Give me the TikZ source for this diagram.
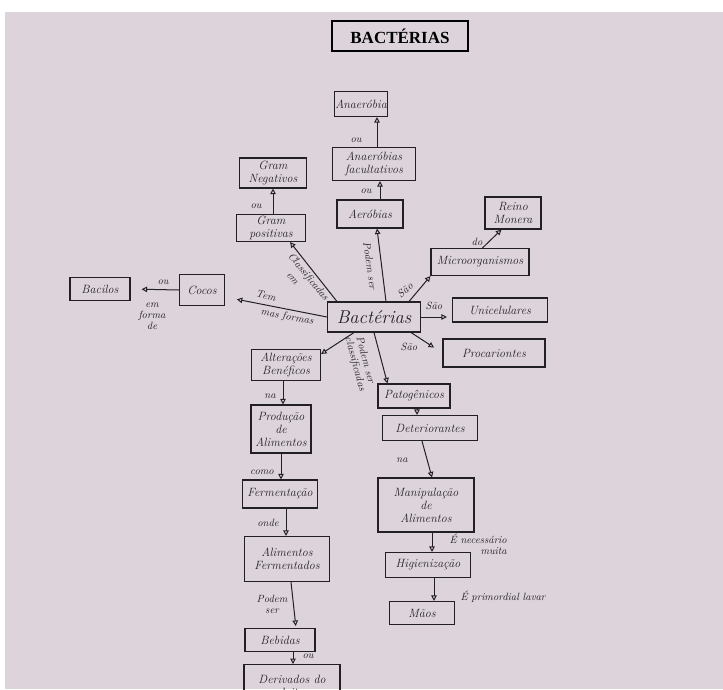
\documentclass[tikz,border=0pt]{standalone}
\usepackage{fontspec}
\newfontfamily\titlefont{Liberation Serif}
\usetikzlibrary{arrows.meta}
\definecolor{paper}{RGB}{221,212,219}
\definecolor{ink}{RGB}{34,32,36}
\tikzset{
  box/.style={draw=ink, line width=1.1pt, text=ink, inner sep=1pt, align=center,
    font=\itshape\fontsize{12}{13}\selectfont},
  lbl/.style={text=ink, inner sep=0pt, align=center, font=\itshape\fontsize{10.5}{11}\selectfont},
  conn/.style={draw=ink, line width=1pt, -{Triangle[open,length=5.5pt,width=5.5pt]}},
}
\begin{document}
\begin{tikzpicture}[x=1pt,y=-1pt]
\useasboundingbox (0,0) rectangle (723,689);
\clip (0,0) rectangle (723,689);
\fill[white] (0,0) rectangle (723,689);
\fill[paper] (5,12) rectangle (723,689);

% title
\node[draw=black, line width=1.1pt, minimum width=136, minimum height=30, inner sep=0pt,
  font=\titlefont\bfseries\fontsize{17}{18}\selectfont] (title) at (400,36) {BACTÉRIAS};

% boxes
\node[box, minimum width=52, minimum height=25] (ana) at (361,104) {Anaeróbia};
\node[box, minimum width=83, minimum height=33] (fac) at (374,164) {Anaeróbias\\facultativos};
\node[box, minimum width=66, minimum height=28] (aer) at (370,214) {Aeróbias};
\node[box, minimum width=67, minimum height=30] (gneg) at (273,173) {Gram\\Negativos};
\node[box, minimum width=69, minimum height=27] (gpos) at (271,228) {Gram\\positivas};
\node[box, minimum width=56, minimum height=32] (reino) at (513,213) {Reino\\Monera};
\node[box, minimum width=98, minimum height=27] (micro) at (480,262) {Microorganismos};
\node[box, minimum width=93, minimum height=30, font=\itshape\fontsize{18.5}{19}\selectfont] (bact) at (374,317) {Bactérias};
\node[box, minimum width=95, minimum height=24] (unic) at (500,310) {Unicelulares};
\node[box, minimum width=102, minimum height=28] (proc) at (494,353) {Procariontes};
\node[box, minimum width=45, minimum height=31] (cocos) at (202,290) {Cocos};
\node[box, minimum width=60, minimum height=23] (bacilos) at (100,289) {Bacilos};
\node[box, minimum width=69, minimum height=31] (alt) at (286,365) {Alterações\\Benéficos};
\node[box, minimum width=60, minimum height=48] (prod) at (281,429) {Produção\\de\\Alimentos};
\node[box, minimum width=75, minimum height=28] (ferm) at (280,494) {Fermentação};
\node[box, minimum width=85, minimum height=45] (alimf) at (287,559) {Alimentos\\Fermentados};
\node[box, minimum width=70, minimum height=23] (beb) at (280,640) {Bebidas};
\node[box, minimum width=96, minimum height=42, anchor=north] (der) at (292,664) {Derivados do\\leite};
\node[box, minimum width=72, minimum height=24] (pat) at (414,396) {Patogênicos};
\node[box, minimum width=95, minimum height=25] (det) at (430,428) {Deteriorantes};
\node[box, minimum width=96, minimum height=54] (manip) at (426,505) {Manipulação\\de\\Alimentos};
\node[box, minimum width=85, minimum height=25] (hig) at (428,565) {Higienização};
\node[box, minimum width=65, minimum height=23] (maos) at (422,613) {Mãos};

% connectors
\draw[conn] ([xshift=3]fac.north) -- ([xshift=3]fac.north |- ana.south);
\draw[conn] ([xshift=10]aer.north) -- ([xshift=10]aer.north |- fac.south);
\draw[conn] ([xshift=2]gpos.north) -- ([xshift=2]gpos.north |- gneg.south);
\draw[conn] ([xshift=10]bact.north west) -- ([xshift=-16]gpos.south east);
\draw[conn] ([xshift=12]bact.north) -- ([xshift=7]aer.south);
\draw[conn] ([xshift=-12]bact.north east) -- (micro.south west);
\draw[conn] ([xshift=52]micro.north west) -- ([xshift=17]reino.south west);
\draw[conn, shorten >=5pt] (bact.east) -- (bact.east -| unic.west);
\draw[conn, shorten >=10pt] ([xshift=-10]bact.south east) -- (proc.west);
\draw[conn, shorten >=12pt] (bact.west) -- ([yshift=-7]cocos.east);
\draw[conn, shorten >=11pt] (cocos.west) -- (bacilos.east);
\draw[conn] ([xshift=-20]bact.south) -- ([yshift=-5]alt.north east);
\draw[conn] (bact.south) -- ([xshift=10]pat.north west);
\draw[conn] ([xshift=2]prod.north |- alt.south) -- ([xshift=2]prod.north);
\draw[conn] (prod.south) -- (prod.south |- ferm.north);
\draw[conn] ([xshift=6]ferm.south) -- ([xshift=6]ferm.south |- alimf.north);
\draw[conn, shorten >=2pt] ([xshift=4]alimf.south) -- ([xshift=16]beb.north);
\draw[conn] ([xshift=13]beb.south) -- ([xshift=13]beb.south |- der.north);
\draw[conn] ([xshift=3]pat.south) -- ([xshift=3]pat.south |- det.north);
\draw[conn] ([xshift=-8]det.south) -- ([xshift=6]manip.north);
\draw[conn] ([xshift=6]manip.south) -- ([xshift=6]manip.south |- hig.north);
\draw[conn] ([xshift=6]hig.south) -- ([xshift=6]hig.south |- maos.north);

% labels
\node[lbl] (l1) at (356,140) {ou};
\node[lbl] (l2) at (366,191) {ou};
\node[lbl] (l3) at (256,206) {ou};
\node[lbl, rotate=-51] (l4) at (308,277) {Classificadas};
\node[lbl, rotate=-51] (l4b) at (292,279) {em};
\node[lbl, rotate=-82] (l5) at (370,266) {Podem ser};
\node[lbl, rotate=40] (l6) at (405,290) {São};
\node[lbl] (l7) at (477,242) {do};
\node[lbl] (l8) at (434,306) {São};
\node[lbl] (l9) at (409,347) {São};
\node[lbl, rotate=-14] (l10) at (266,296) {Tem};
\node[lbl, rotate=-10] (l11) at (287,317) {mas formas};
\node[lbl] (l12) at (163,282) {ou};
\node[lbl] (l13) at (152,316) {em\\forma\\de};
\node[lbl, rotate=-75] (l14) at (366,360) {Podem ser};
\node[lbl, rotate=-75] (l14b) at (355,364) {classificadas};
\node[lbl] (l15) at (270,396) {na};
\node[lbl] (l16) at (262,472) {como};
\node[lbl] (l17) at (268,523) {onde};
\node[lbl] (l18) at (272,604) {Podem\\ser};
\node[lbl] (l19) at (308,656) {ou};
\node[lbl] (l20) at (402,460) {na};
\node[lbl, align=right, anchor=east] (l21) at (507,544) {É necessário\\muita};
\node[lbl] (l22) at (503,597) {É primordial lavar};
\end{tikzpicture}
\end{document}
